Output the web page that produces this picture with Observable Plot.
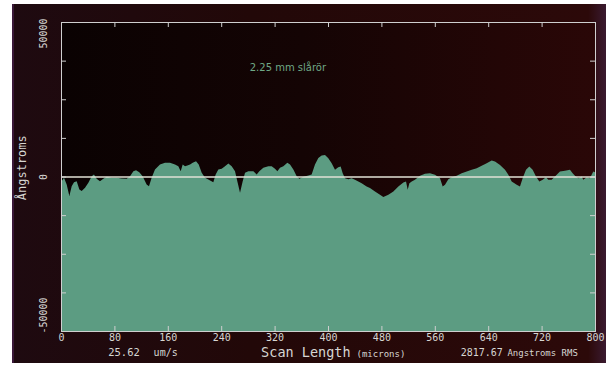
<!DOCTYPE html>
<html>
<head>
<meta charset="utf-8">
<script src="https://cdn.jsdelivr.net/npm/d3@7"></script>
<script src="https://cdn.jsdelivr.net/npm/@observablehq/plot@0.6"></script>
<style>
  html, body { margin: 0; padding: 0; background: #ffffff; }
  #wrap { position: relative; width: 610px; height: 367px; overflow: hidden; }
  #bg { position: absolute; left: 12px; top: 4px; width: 594px; height: 359px;
        background: linear-gradient(to right, #1e0a10 0%, #220808 40%, #2c0909 97%, #3a1a30 100%);
        border-left: 2px solid #3a1838; box-sizing: border-box; }
  #chart { position: absolute; left: 0; top: 0; }
</style>
</head>
<body>
<div id="wrap"><div id="bg"></div><div id="chart"></div></div>
<script>
// Scan position (microns) and surface height (Angstroms)
const microns = [
  0, 1, 4.5, 8.5, 12.5, 16, 19.5, 23.5, 27.5, 31,
  36, 41, 46, 49.4, 53.4, 58.4, 63.4, 68.4, 75.9, 83.4,
  90.9, 98.4, 103.4, 108.4, 112.4, 117.3, 122.3, 128.3, 131.8, 135.8,
  140.8, 148.3, 155.8, 163.3, 170.8, 175.8, 179.3, 182.3, 185.8, 189.3,
  193.3, 197.3, 202.3, 206.3, 210.8, 215.8, 220.7, 228.2, 231.7, 235.7,
  240.7, 245.7, 250.7, 255.7, 260.7, 264.7, 268.2, 272.2, 275.7, 280.7,
  288.2, 293.1, 297.1, 303.1, 310.6, 315.6, 320.6, 324.1, 328.1, 333.1,
  339.1, 343.1, 348.1, 353.1, 357.1, 363.1, 370.6, 375.5, 380.5, 385.5,
  390.5, 395.5, 400.5, 405.5, 410.5, 415.4, 419, 422, 425.5, 430.5,
  435.4, 440.4, 445.4, 450.4, 457.9, 462.9, 470.4, 477.9, 482.9, 490.4,
  497.9, 505.4, 512.9, 516.9, 519.4, 521.9, 525.4, 530.3, 537.8, 545.3,
  552.8, 560.3, 567.8, 571.8, 575.3, 580.3, 585.3, 592.8, 600.3, 607.8,
  615.3, 622.8, 630.2, 637.7, 645.2, 650.2, 657.7, 665.2, 670.2, 675.2,
  682.7, 687.6, 691.6, 696.6, 701.6, 706.6, 711.6, 716.6, 721.6, 726.6,
  730, 735, 740, 747.5, 755, 762.5, 766.5, 770, 775, 780,
  782.5, 787.5, 792.4, 797.4, 800
];
const angstroms = [
  -1600, -1500, -430, -2580, -6340, -3120, -1830, -1510, -4190, -4730,
  -3660, -2040, 110, 650, -750, -1510, -750, -110, -430, -430,
  -650, -750, 110, 1720, 2040, 1400, 110, -2580, -3120, -430,
  2260, 3870, 4410, 4410, 3870, 3330, 1720, 3870, 3330, 3550,
  3870, 4410, 4950, 3870, 1180, -430, -970, -1830, 650, 2260,
  2470, 3330, 4190, 3330, 1720, -2040, -5270, -1510, 1180, 1720,
  1720, 650, 1720, 2800, 3330, 3330, 2470, 1720, 2800, 3330,
  4410, 3870, 2260, 110, -750, -110, 320, 650, 3870, 6020,
  6770, 6990, 5910, 4300, 2150, 3010, 3230, 1080, -540, -860,
  -540, -1080, -1610, -2150, -3230, -3760, -4840, -5910, -6670, -5910,
  -4840, -3230, -1940, -1610, -4300, -2150, -1610, -1080, 220, 860,
  1080, 540, -540, -3230, -2690, -860, -220, 220, 1080, 1610,
  2150, 2690, 3440, 4300, 5160, 4840, 3760, 2150, 540, -1610,
  -2690, -3230, -540, 2150, 3230, 2150, 0, -1610, -1080, -220,
  -1080, -1080, 0, 1610, 1830, 2150, 1080, 220, -540, 0,
  -1080, -220, -540, 1610, 1400
];

const xTicks = [0, 80, 160, 240, 320, 400, 480, 560, 640, 720, 800];
const yMinorTicks = [-37500, -25000, -12500, 0, 12500, 25000, 37500];
const yLabels = { top: 50000, mid: 0, bottom: -50000 };
const title = "2.25 mm slårör";
const yTitle = "Ångstroms";
const speedValue = "25.62", speedUnit = "um/s";
const xTitle = "Scan Length", xUnit = "(microns)";
const rmsValue = "2817.67", rmsUnit = "Angstroms RMS";

const data = microns.map((m, i) => ({x: m, y: angstroms[i]}));

const W = 610, H = 367;
const mL = 61, mR = 15, mT = 22, mB = 36;
const innerW = W - mL - mR, innerH = H - mT - mB;
const light = "#d6d6d2";
const mono = "DejaVu Sans Mono";

const chart = Plot.plot({
  width: W,
  height: H,
  marginLeft: mL,
  marginRight: mR,
  marginTop: mT,
  marginBottom: mB,
  style: { background: "transparent", color: light, fontFamily: mono, fontSize: "10px" },
  x: { domain: [0, 800], axis: null },
  y: { domain: [-50000, 50000], axis: null },
  marks: [
    Plot.frame({ fill: "#120404", stroke: "none" }),
    Plot.areaY(data, { x: "x", y1: -50000, y2: "y", fill: "#5c9c82", curve: "linear" }),
    Plot.ruleY([0], { stroke: "#e2e2d6", strokeWidth: 1.6 }),
    Plot.frame({ stroke: "#cfcfcf", strokeWidth: 1 }),
    // inward ticks on all four sides
    Plot.ruleX(xTicks.slice(1, -1), { stroke: "#cfcfcf", insetBottom: innerH - 5 }),
    Plot.ruleX(xTicks.slice(1, -1), { stroke: "#cfcfcf", insetTop: innerH - 5 }),
    Plot.ruleY(yMinorTicks, { stroke: "#cfcfcf", insetRight: innerW - 5 }),
    Plot.ruleY(yMinorTicks, { stroke: "#cfcfcf", insetLeft: innerW - 5 }),
    Plot.axisX({ ticks: xTicks, anchor: "bottom", tickSize: 0, tickPadding: 2, label: null,
                 tickFormat: d => String(d), fontSize: 10, fill: light }),
    // rotated y labels
    Plot.text([yLabels.top], { y: d => d, frameAnchor: "left", dx: -18, dy: -4, rotate: -90,
                text: d => String(d), textAnchor: "end", fill: light, fontSize: 10 }),
    Plot.text([yLabels.mid], { y: d => d, frameAnchor: "left", dx: -18, rotate: -90,
                text: d => String(d), textAnchor: "middle", fill: light, fontSize: 10 }),
    Plot.text([yLabels.bottom], { y: d => d, frameAnchor: "left", dx: -18, dy: 2, rotate: -90,
                text: d => String(d), textAnchor: "start", fill: light, fontSize: 10 }),
    Plot.text([yTitle], { y: 3000, frameAnchor: "left", dx: -39, rotate: -90,
                text: d => d, textAnchor: "middle", fill: light, fontSize: 12 }),
    // title inside plot
    Plot.text([title], { x: 282, y: 35500, text: d => d, textAnchor: "start",
                fill: "#6fa886", fontSize: 10, fontFamily: "DejaVu Sans" }),
    // bottom annotations
    Plot.text([speedValue], { x: 70, frameAnchor: "bottom", dy: 24, text: d => d,
                textAnchor: "start", fill: light, fontSize: 10.5 }),
    Plot.text([speedUnit], { x: 138, frameAnchor: "bottom", dy: 24, text: d => d,
                textAnchor: "start", fill: light, fontSize: 10 }),
    Plot.text([xTitle], { x: 433, frameAnchor: "bottom", dy: 25, text: d => d,
                textAnchor: "end", fill: light, fontSize: 13.5 }),
    Plot.text([xUnit], { x: 442, frameAnchor: "bottom", dy: 25, text: d => d,
                textAnchor: "start", fill: light, fontSize: 9 }),
    Plot.text([rmsValue], { x: 598, frameAnchor: "bottom", dy: 24, text: d => d,
                textAnchor: "start", fill: light, fontSize: 10 }),
    Plot.text([rmsUnit], { x: 668, frameAnchor: "bottom", dy: 24, text: d => d,
                textAnchor: "start", fill: light, fontSize: 9 })
  ]
});

// gradient fill for the plotting area (styling only)
const svg = d3.select(chart);
const defs = svg.insert("defs", ":first-child");
const g = defs.append("linearGradient").attr("id", "plotBg").attr("x1", "0").attr("x2", "1").attr("y1", "0").attr("y2", "0");
g.append("stop").attr("offset", "0%").attr("stop-color", "#0a0202");
g.append("stop").attr("offset", "45%").attr("stop-color", "#140404");
g.append("stop").attr("offset", "100%").attr("stop-color", "#2a0707");
const frameNode = svg.select('[aria-label="frame"]');
if (!frameNode.empty()) {
  if (frameNode.node().tagName.toLowerCase() === "rect") frameNode.attr("fill", "url(#plotBg)");
  else frameNode.select("rect").attr("fill", "url(#plotBg)");
}

document.getElementById("chart").appendChild(chart);
</script>
</body>
</html>
